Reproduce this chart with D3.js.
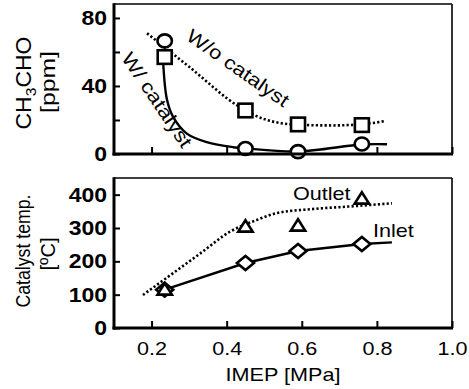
<!DOCTYPE html>
<html><head><meta charset="utf-8">
<script src="https://cdn.jsdelivr.net/npm/d3@7"></script>
<style>
html,body{margin:0;padding:0;background:#fff;}
svg{display:block;font-family:Arial,"Liberation Sans",Helvetica,sans-serif;}
</style></head>
<body>
<svg id="chart" width="469" height="389"></svg>
<script>
// ---- data ----
const imep = [0.235, 0.45, 0.59, 0.76];
const withCatalyst = [66.5, 3.2, 1.4, 5.9];        // circles (ppm)
const withoutCatalyst = [57, 25.6, 17.4, 17];      // squares (ppm)
const outletTemp = [117, 306, 309, 390];           // triangles (°C)
const inletTemp = [115, 195, 231, 252];            // diamonds (°C)

// fitted curves
const withCatCurveX = [0.231, 0.241, 0.257, 0.294, 0.347, 0.417, 0.45, 0.59, 0.76, 0.827];
const withCatCurveY = [53.5, 32, 22, 12, 7, 4, 3.3, 1.5, 5.6, 5.7];
const withoutCatCurveX = [0.188, 0.3, 0.435, 0.5, 0.59, 0.68, 0.76, 0.823];
const withoutCatCurveY = [71, 51.3, 27.6, 20.5, 17.2, 16.8, 17.5, 19.4];
const outletCurveX = [0.177, 0.33, 0.409, 0.48, 0.535, 0.63, 0.72, 0.84];
const outletCurveY = [99, 224, 289, 324, 345, 357, 364, 374];
const inletCurveX = [0.235, 0.45, 0.59, 0.76, 0.84];
const inletCurveY = [115, 195, 231, 252, 257];

const xTicks = [0.2, 0.4, 0.6, 0.8, 1.0];
const xTickLabels = ["0.2", "0.4", "0.6", "0.8", "1.0"];
const yTicksTop = [0, 40, 80];
const yMinorTop = [20, 60];
const yTicksBottom = [0, 100, 200, 300, 400];

// ---- layout ----
const svg = d3.select("#chart");
const L = 114, R = 452;
const x = d3.scaleLinear().domain([0.1, 1.0]).range([L, R]);
const yTop = d3.scaleLinear().domain([0, 88.2]).range([154, 4]);
const yBot = d3.scaleLinear().domain([0, 450]).range([328, 178]);
const SX = 1.15;

function frame(y) {
  const [b, t] = y.range();
  svg.append("line").attr("x1", L).attr("x2", R).attr("y1", t).attr("y2", t).attr("stroke", "#000").attr("stroke-width", 1.6);
  svg.append("line").attr("x1", R).attr("x2", R).attr("y1", t).attr("y2", b).attr("stroke", "#000").attr("stroke-width", 1.6);
  svg.append("line").attr("x1", L).attr("x2", L).attr("y1", t - 0.8).attr("y2", b + 1.5).attr("stroke", "#000").attr("stroke-width", 3);
  svg.append("line").attr("x1", L - 1.5).attr("x2", R + 1).attr("y1", b).attr("y2", b).attr("stroke", "#000").attr("stroke-width", 3);
}

function yAxis(y, ticks, minor, labels) {
  const g = svg.append("g").attr("transform", `translate(${L},0)`)
    .call(d3.axisLeft(y).tickValues(ticks).tickSizeInner(-6).tickSizeOuter(0).tickPadding(7).tickFormat(labels ? d3.format("d") : ""));
  g.select(".domain").remove();
  g.selectAll("line").attr("stroke", "#000").attr("stroke-width", 2);
  g.selectAll("text").attr("x", 0).attr("transform", `translate(-7,0) scale(${SX},1)`)
    .attr("font-size", 20).attr("font-weight", "bold").attr("fill", "#000")
    .attr("font-family", "Arial, 'Liberation Sans', sans-serif");
  if (minor) {
    const m = svg.append("g").attr("transform", `translate(${L},0)`)
      .call(d3.axisLeft(y).tickValues(minor).tickSizeInner(-6).tickSizeOuter(0).tickFormat(""));
    m.select(".domain").remove();
    m.selectAll("line").attr("stroke", "#000").attr("stroke-width", 2);
  }
}

function xAxis(y, labels) {
  const b = y.range()[0];
  const g = svg.append("g").attr("transform", `translate(0,${b})`)
    .call(d3.axisBottom(x).tickValues(xTicks).tickSizeInner(-7).tickSizeOuter(0).tickPadding(14)
      .tickFormat((d, i) => labels ? xTickLabels[i] : ""));
  g.select(".domain").remove();
  g.selectAll("line").attr("stroke", "#000").attr("stroke-width", 2);
  g.selectAll("text").attr("y", 0).attr("transform", `translate(0,14) scale(${SX + 0.05},1)`)
    .attr("font-size", 18).attr("fill", "#000")
    .attr("font-family", "Arial, 'Liberation Sans', sans-serif");
}

function txt(xp, yp, s, opts = {}) {
  const g = svg.append("g").attr("transform", `translate(${xp},${yp}) rotate(${opts.rot || 0}) scale(${opts.sx || 1},1)`);
  const t = g.append("text").attr("font-size", opts.fs || 18).attr("fill", "#000")
    .attr("text-anchor", opts.anchor || "start");
  if (opts.len) t.attr("textLength", opts.len).attr("lengthAdjust", "spacingAndGlyphs");
  if (opts.baseline) t.attr("dominant-baseline", opts.baseline);
  if (opts.weight) t.attr("font-weight", opts.weight);
  t.text(s);
  return t;
}

const lineGen = (y) => d3.line().x(d => x(d[0])).y(d => y(d[1]));

// ---- top panel ----
yAxis(yTop, yTicksTop, yMinorTop, true);
xAxis(yTop, false);

svg.append("path").datum(d3.zip(withoutCatCurveX, withoutCatCurveY))
  .attr("d", lineGen(yTop).curve(d3.curveMonotoneX))
  .attr("fill", "none").attr("stroke", "#000").attr("stroke-width", 2.6).attr("stroke-dasharray", "2.2,2.2");
svg.append("path").datum(d3.zip(withCatCurveX, withCatCurveY))
  .attr("d", lineGen(yTop).curve(d3.curveCatmullRom.alpha(0.5)))
  .attr("fill", "none").attr("stroke", "#000").attr("stroke-width", 2.4);

svg.append("g").selectAll("rect").data(d3.zip(imep, withoutCatalyst)).join("rect")
  .attr("x", d => x(d[0]) - 7).attr("y", d => yTop(d[1]) - 6.8)
  .attr("width", 14).attr("height", 13.6)
  .attr("fill", "#fff").attr("stroke", "#000").attr("stroke-width", 2.6);
svg.append("g").selectAll("ellipse").data(d3.zip(imep, withCatalyst)).join("ellipse")
  .attr("cx", d => x(d[0])).attr("cy", d => yTop(d[1]))
  .attr("rx", 7.2).attr("ry", 6.5)
  .attr("fill", "#fff").attr("stroke", "#000").attr("stroke-width", 2.6);

// ---- bottom panel ----
yAxis(yBot, yTicksBottom, null, true);
xAxis(yBot, true);

svg.append("path").datum(d3.zip(outletCurveX, outletCurveY))
  .attr("d", lineGen(yBot).curve(d3.curveMonotoneX))
  .attr("fill", "none").attr("stroke", "#000").attr("stroke-width", 2.6).attr("stroke-dasharray", "2.2,2.2");
svg.append("path").datum(d3.zip(inletCurveX, inletCurveY))
  .attr("d", lineGen(yBot))
  .attr("fill", "none").attr("stroke", "#000").attr("stroke-width", 2.4);

svg.append("g").selectAll("path").data(d3.zip(imep, inletTemp)).join("path")
  .attr("d", d => { const cx = x(d[0]), cy = yBot(d[1]); return `M${cx - 8.5},${cy}L${cx},${cy - 7}L${cx + 8.5},${cy}L${cx},${cy + 7}Z`; })
  .attr("fill", "#fff").attr("stroke", "#000").attr("stroke-width", 2.6);
svg.append("g").selectAll("path").data(d3.zip(imep, outletTemp)).join("path")
  .attr("d", d => { const cx = x(d[0]), cy = yBot(d[1]); return `M${cx - 7.2},${cy + 5.6}L${cx + 7.2},${cy + 5.6}L${cx},${cy - 5.8}Z`; })
  .attr("fill", "#fff").attr("stroke", "#000").attr("stroke-width", 2.6).attr("stroke-linejoin", "miter");

frame(yTop);
frame(yBot);

// ---- texts ----
txt(238, 68, "W/o catalyst", { rot: 35, fs: 19, anchor: "middle", baseline: "central", len: 120 });
txt(157, 100, "W/ catalyst", { rot: 56, fs: 19, anchor: "middle", baseline: "central", len: 110 });
txt(293, 200, "Outlet", { fs: 18, sx: 1.2 });
txt(373, 237, "Inlet", { fs: 18, sx: 1.2 });

// y titles
{
  const g = svg.append("g").attr("transform", `translate(31,83) rotate(-90)`);
  const t = g.append("text").attr("font-size", 22).attr("text-anchor", "middle").attr("fill", "#000")
    .attr("textLength", 93).attr("lengthAdjust", "spacingAndGlyphs");
  t.append("tspan").text("CH");
  t.append("tspan").attr("font-size", 15).attr("dy", 5).text("3");
  t.append("tspan").attr("dy", -5).text("CHO");
}
txt(55, 82, "[ppm]", { rot: -90, fs: 21, anchor: "middle", len: 62 });
txt(30, 251, "Catalyst temp.", { rot: -90, fs: 21, anchor: "middle", len: 113 });
txt(55, 254, "[ºC]", { rot: -90, fs: 21, anchor: "middle", len: 33 });

// x title
txt(283, 381, "IMEP [MPa]", { fs: 18, sx: 1.2, anchor: "middle" });
</script>
</body></html>
